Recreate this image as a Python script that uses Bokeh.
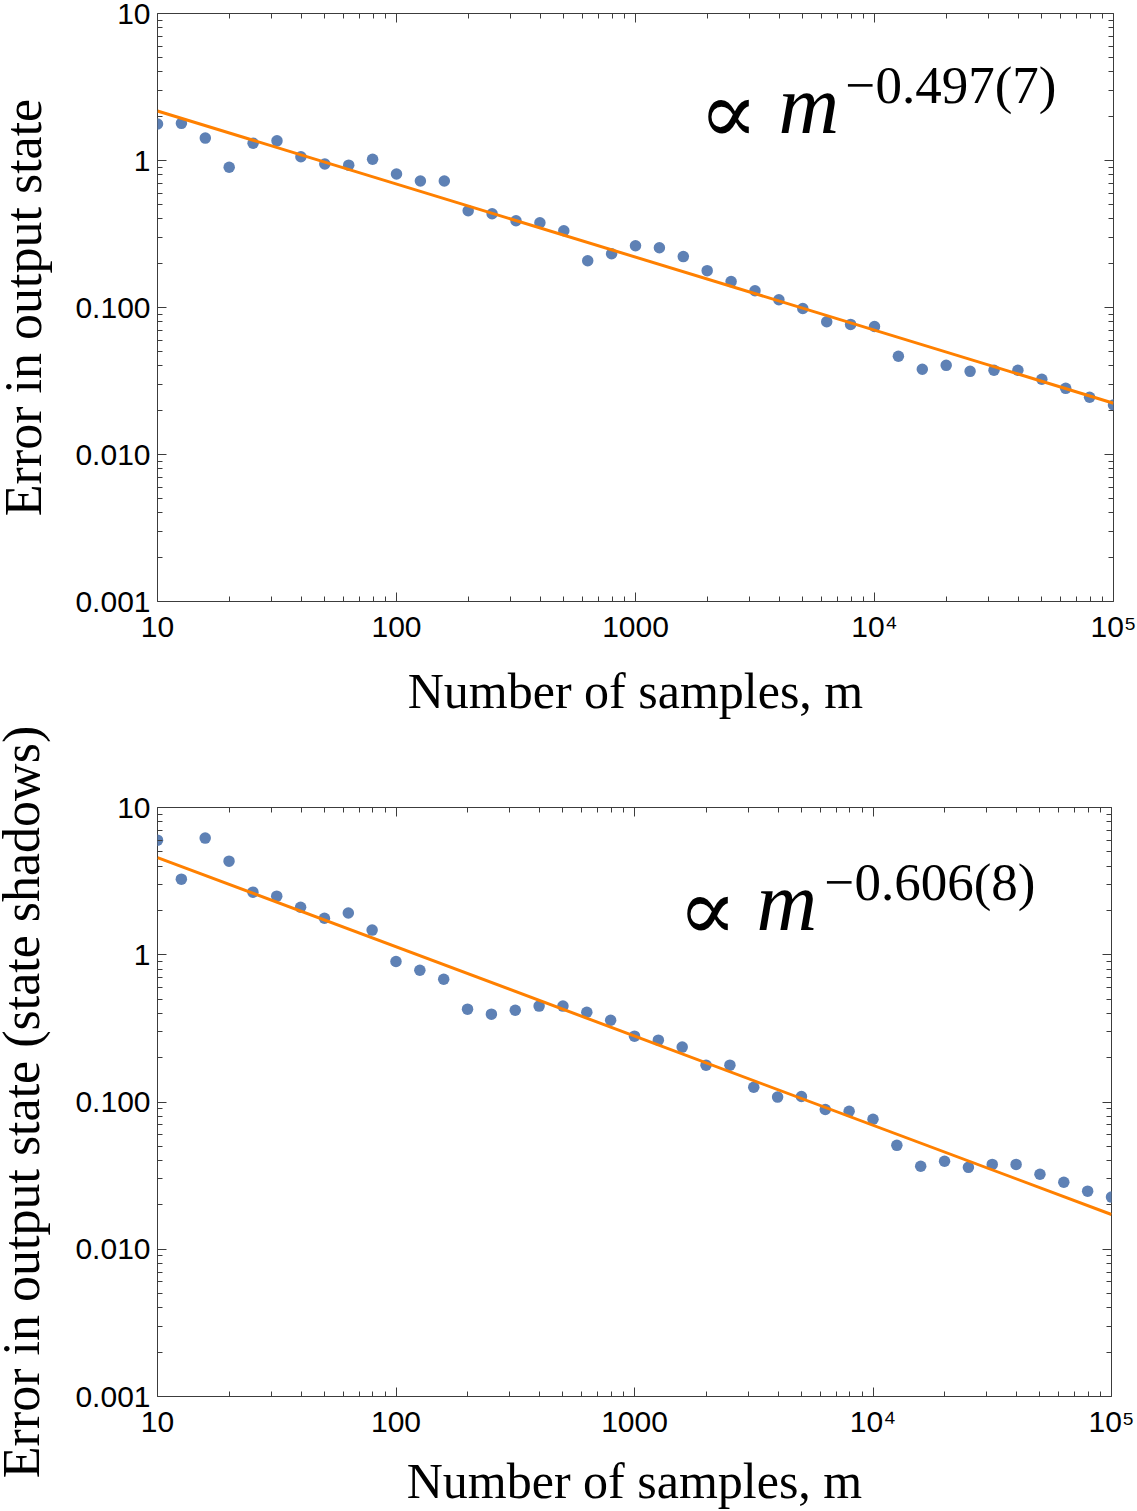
import math
from bokeh.plotting import figure
from bokeh.models import LogAxis, FixedTicker, Label, CustomJSTickFormatter
from bokeh.layouts import column
from bokeh.embed import file_html
from bokeh.resources import INLINE

# ---------------- data ----------------
m_samples = [10, 12.59, 15.85, 19.95, 25.12, 31.62, 39.81, 50.12, 63.10, 79.43,
             100, 125.9, 158.5, 199.5, 251.2, 316.2, 398.1, 501.2, 631.0, 794.3,
             1000, 1259, 1585, 1995, 2512, 3162, 3981, 5012, 6310, 7943,
             10000, 12589, 15849, 19953, 25119, 31623, 39811, 50119, 63096, 79433, 100000]

error_state = [1.77, 1.79, 1.42, 0.90, 1.31, 1.36, 1.06, 0.946, 0.93, 1.02,
               0.81, 0.726, 0.726, 0.455, 0.434, 0.389, 0.377, 0.333, 0.208, 0.232,
               0.263, 0.255, 0.222, 0.178, 0.150, 0.130, 0.113, 0.0985, 0.080, 0.0767,
               0.0743, 0.0466, 0.038, 0.0404, 0.0368, 0.0374, 0.0374, 0.0325, 0.0282, 0.0245,
               0.0217]

error_shadow = [6.0, 3.26, 6.2, 4.32, 2.66, 2.50, 2.10, 1.77, 1.92, 1.47,
                0.90, 0.785, 0.682, 0.427, 0.395, 0.42, 0.448, 0.448, 0.407, 0.359,
                0.28, 0.263, 0.236, 0.178, 0.178, 0.126, 0.108, 0.109, 0.089, 0.0865,
                0.0763, 0.0508, 0.0366, 0.0396, 0.036, 0.0377, 0.0377, 0.0323, 0.0285, 0.0248,
                0.0226]

fit_amp_state, fit_slope_state = 6.82, -0.497
fit_amp_shadow, fit_slope_shadow = 18.45, -0.606

x_tick_values = [10, 100, 1000, 10000, 100000]
x_tick_labels = ["10", "100", "1000", "10\u2074", "10\u2075"]
y_tick_values = [0.001, 0.01, 0.1, 1, 10]
y_tick_labels = ["0.001", "0.010", "0.100", "1", "10"]

xlabel_text = "Number of samples, m"
ylabel_state = "Error in output state"
ylabel_shadow = "Error in output state (state shadows)"
expo_state = "\u22120.497(7)"
expo_shadow = "\u22120.606(8)"

# ---------------- styling ----------------
FRAME = "#3c3c3c"
DOT = "#5E81B5"
LINE = "#FF8000"
SERIF = "Liberation Serif"
SANS = "Liberation Sans"
OX, OY = 2, 0          # where the figure's top-left lands on the page (before margin)
SHIFT = 12             # figure pulled left by this many pixels (empty label padding)
BASE_FIX = 0.375       # Label baseline correction (fraction of font size)

x_minor = [d * 10 ** e for e in range(1, 5) for d in range(2, 10)]
y_minor = [d * 10.0 ** e for e in range(-3, 1) for d in range(2, 10)]

FMT_CODE = """
for (let i = 0; i < vals.length; i++) {
  if (Math.abs(Math.log10(vals[i]) - Math.log10(tick)) < 1e-6) { return labs[i]; }
}
return '';
"""


def style_axis(ax, ticks, minor, labels, show):
    ax.ticker = FixedTicker(ticks=ticks, minor_ticks=minor)
    ax.axis_line_color = None
    ax.major_tick_in = 9
    ax.major_tick_out = 0
    ax.minor_tick_in = 5
    ax.minor_tick_out = 0
    ax.major_tick_line_color = FRAME
    ax.minor_tick_line_color = FRAME
    ax.major_tick_line_width = 1
    ax.minor_tick_line_width = 1
    if show:
        ax.formatter = CustomJSTickFormatter(args=dict(vals=ticks, labs=labels), code=FMT_CODE)
        ax.major_label_text_font = SANS
        ax.major_label_text_font_size = "30px"
        ax.major_label_text_color = "black"
        ax.axis_label_text_font = SERIF
        ax.axis_label_text_font_style = "normal"
        ax.axis_label_text_color = "black"
    else:
        ax.formatter = CustomJSTickFormatter(code="return ' ';")
        ax.major_label_text_font_size = "1px"
        ax.major_label_text_alpha = 0
        ax.major_label_standoff = 0


def make_panel(err, amp, slope, ylabel, expo, g, pos):
    p = figure(x_axis_type="log", y_axis_type="log", x_range=(10, 1e5), y_range=(1e-3, 10),
               frame_width=g["fw"] + SHIFT, frame_height=g["fh"],
               min_border_left=g["bl"] + SHIFT, min_border_right=22,
               min_border_top=g["bt"], min_border_bottom=g["bb"],
               output_backend="svg", toolbar_location=None,
               margin=(0, 0, 0, -SHIFT))
    p.xgrid.visible = False
    p.ygrid.visible = False
    p.outline_line_color = FRAME
    p.outline_line_width = 1
    p.background_fill_color = "white"
    p.border_fill_color = "white"

    xa = p.xaxis[0]
    style_axis(xa, x_tick_values, x_minor, x_tick_labels, True)
    xa.major_label_standoff = 8
    xa.axis_label = xlabel_text
    xa.axis_label_text_font_size = "50px"
    xa.axis_label_standoff = g["sx"]

    ya = p.yaxis[0]
    style_axis(ya, y_tick_values, y_minor, y_tick_labels, True)
    ya.major_label_standoff = 7
    ya.axis_label = ylabel
    ya.axis_label_text_font_size = "52px"
    ya.axis_label_standoff = g["sy"]

    top_ax = LogAxis()
    style_axis(top_ax, x_tick_values, x_minor, x_tick_labels, False)
    p.add_layout(top_ax, "above")
    right_ax = LogAxis()
    style_axis(right_ax, y_tick_values, y_minor, y_tick_labels, False)
    p.add_layout(right_ax, "right")

    p.scatter(m_samples, err, size=11.5, color=DOT, line_color=None)
    fit_x = [m_samples[0], m_samples[-1]]
    fit_y = [amp * xv ** slope for xv in fit_x]
    p.line(fit_x, fit_y, line_color=LINE, line_width=3)

    FL = OX + g["bl"]
    FB = OY + g["top_page"] + g["fh"]

    def lab(text, px, py_base, size, font=SERIF, style="normal", align="left"):
        py = py_base - BASE_FIX * size
        p.add_layout(Label(x=px - FL, y=FB - py, x_units="screen", y_units="screen",
                           text=text, text_font=font, text_font_size=f"{size}px",
                           text_font_style=style, text_align=align, text_baseline="alphabetic",
                           text_color="black"))

    lab("\u221d", pos["prop_cx"], pos["prop_base"] + 10, 88, font="DejaVu Serif", align="center")
    lab("m", pos["m_left"], pos["prop_base"], 84, style="italic")
    lab(expo, pos["expo_left"], pos["expo_base"], 53)
    return p


g1 = dict(fw=956, fh=588, bl=155, bt=13, bb=120, sx=17, sy=20, top_page=13)
g2 = dict(fw=954, fh=589, bl=157, bt=86, bb=112, sx=12, sy=22, top_page=807)

p1 = make_panel(error_state, fit_amp_state, fit_slope_state, ylabel_state, expo_state, g1,
                dict(prop_cx=728, prop_base=135, m_left=778, expo_left=845, expo_base=104))
p2 = make_panel(error_shadow, fit_amp_shadow, fit_slope_shadow, ylabel_shadow, expo_shadow, g2,
                dict(prop_cx=709, prop_base=932, m_left=758, expo_left=826, expo_base=901))

layout = column(p1, p2, spacing=0)
open("out.html", "w").write(file_html(layout, INLINE))
